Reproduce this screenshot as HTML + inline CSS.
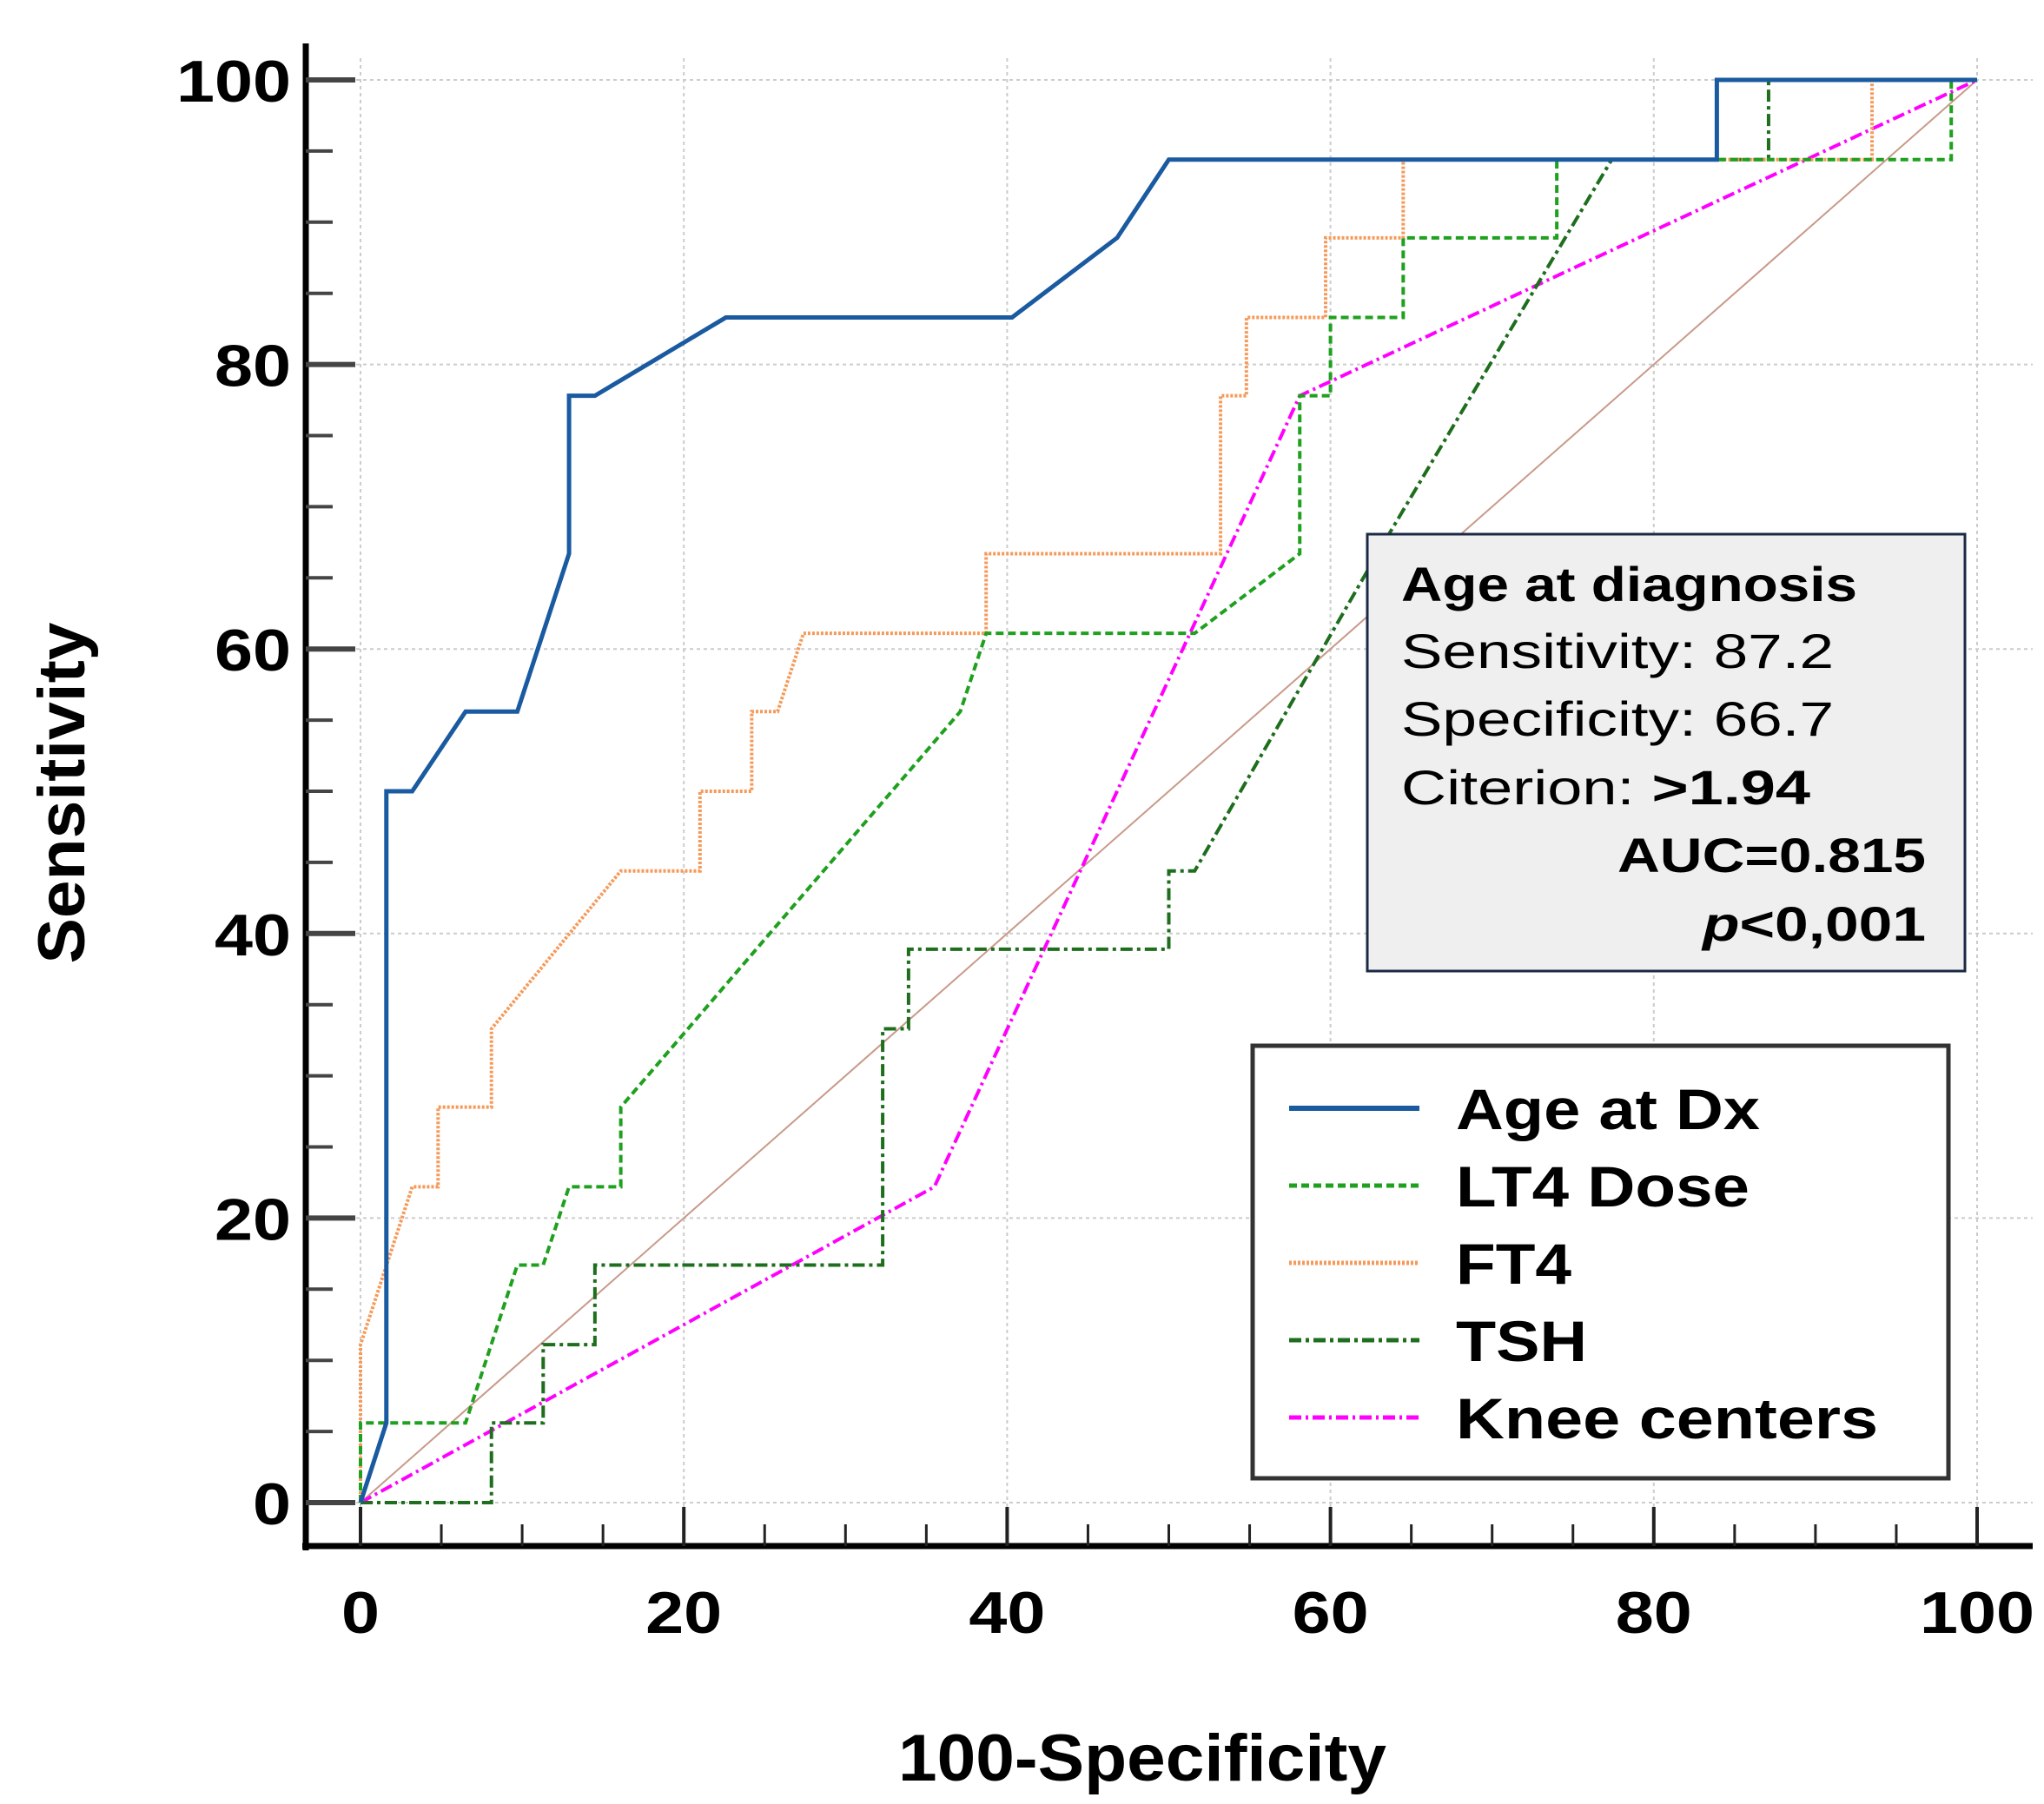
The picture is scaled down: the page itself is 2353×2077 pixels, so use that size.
<!DOCTYPE html>
<html><head><meta charset="utf-8"><style>
body{margin:0;background:#fff}
svg{display:block;font-family:"Liberation Sans",sans-serif}
</style></head><body>
<svg id="chart" width="2353" height="2077" viewBox="0 0 2353 2077" xmlns="http://www.w3.org/2000/svg">
<g id="grid"></g>
<g id="axes"></g>
<g id="series"></g>
<g>
<rect x="1574" y="615" width="688" height="503" fill="#efefef" stroke="#1a2a44" stroke-width="3"/>
<text x="1613" y="692" font-size="56" font-weight="bold" textLength="525" lengthAdjust="spacingAndGlyphs">Age at diagnosis</text>
<text x="1613" y="769" font-size="56" textLength="498" lengthAdjust="spacingAndGlyphs">Sensitivity: 87.2</text>
<text x="1613" y="847" font-size="56" textLength="498" lengthAdjust="spacingAndGlyphs">Specificity: 66.7</text>
<text x="1613" y="926" font-size="56" textLength="471" lengthAdjust="spacingAndGlyphs">Citerion: <tspan font-weight="bold">&gt;1.94</tspan></text>
<text x="1862" y="1004" font-size="56" font-weight="bold" textLength="355" lengthAdjust="spacingAndGlyphs">AUC=0.815</text>
<text x="1960" y="1083" font-size="56" font-weight="bold" textLength="257" lengthAdjust="spacingAndGlyphs"><tspan font-style="italic">p</tspan>&lt;0,001</text>
</g>
<g id="legend">
<rect x="1442" y="1204" width="801" height="498" fill="#fff" stroke="#333" stroke-width="5"/>
</g>
<text x="1315" y="2050" font-size="76" font-weight="bold" text-anchor="middle" textLength="562" lengthAdjust="spacingAndGlyphs">100-Specificity</text>
<text transform="translate(97,913) rotate(-90)" font-size="76" font-weight="bold" text-anchor="middle" textLength="393" lengthAdjust="spacingAndGlyphs">Sensitivity</text>
</svg>
<script>
const ticks=[0,20,40,60,80,100];
const ageX=[0,1.6,1.6,3.2,6.5,9.7,12.9,12.9,14.5,22.6,40.3,46.8,50,83.9,83.9,100];
const ageY=[0,5.6,50,50,55.6,55.6,66.7,77.8,77.8,83.3,83.3,88.9,94.4,94.4,100,100];
const lt4X=[0,0,6.5,9.7,11.3,12.9,16.1,16.1,37.1,38.7,51.6,58.1,58.1,60,60,64.5,64.5,74,74,98.4,98.4,100];
const lt4Y=[0,5.6,5.6,16.7,16.7,22.2,22.2,27.8,55.6,61.1,61.1,66.7,77.8,77.8,83.3,83.3,88.9,88.9,94.4,94.4,100,100];
const ft4X=[0,0,3.2,4.8,4.8,8.1,8.1,16.1,21,21,24.2,24.2,25.8,27.4,38.7,38.7,53.2,53.2,54.8,54.8,59.7,59.7,64.5,64.5,93.5,93.5,100];
const ft4Y=[0,11.1,22.2,22.2,27.8,27.8,33.3,44.4,44.4,50,50,55.6,55.6,61.1,61.1,66.7,66.7,77.8,77.8,83.3,83.3,88.9,88.9,94.4,94.4,100,100];
const tshX=[0,8.1,8.1,11.3,11.3,14.5,14.5,32.3,32.3,33.9,33.9,50,50,51.6,62.9,77.4,87.1,87.1,100];
const tshY=[0,0,5.6,5.6,11.1,11.1,16.7,16.7,33.3,33.3,38.9,38.9,44.4,44.4,66.7,94.4,94.4,100,100];
const kneeX=[0,35.5,58.1,100];
const kneeY=[0,22.2,77.8,100];
const refX=[0,100];
const refY=[0,100];

const NS="http://www.w3.org/2000/svg";
const X0=415,X1=2276,Y0=1730,Y1=92;
const sx=v=>X0+(X1-X0)*v/100;
const sy=v=>Y0-(Y0-Y1)*v/100;
function mk(tag,attrs,parent){const e=document.createElementNS(NS,tag);for(const k in attrs)e.setAttribute(k,attrs[k]);parent.appendChild(e);return e;}
const grid=document.getElementById('grid'),axes=document.getElementById('axes'),series=document.getElementById('series'),legend=document.getElementById('legend');
ticks.forEach(t=>{
  const v=mk('line',{x1:sx(t),x2:sx(t),y1:Y1-25,y2:Y0+10,stroke:'#ccc','stroke-width':2,'stroke-dasharray':'4 4'},grid);
  
  
  const h=mk('line',{x1:X0-5,x2:2340,y1:sy(t),y2:sy(t),stroke:'#ccc','stroke-width':2,'stroke-dasharray':'4 4'},grid);
  
  
});
mk('line',{x1:352,x2:352,y1:50,y2:1785,stroke:'#000','stroke-width':7},axes);
mk('line',{x1:348,x2:2340,y1:1780,y2:1780,stroke:'#000','stroke-width':7},axes);
for(let t=0;t<=100;t+=5){
  const major=t%20===0;
  mk('line',{x1:352,x2:major?409:383,y1:sy(t),y2:sy(t),stroke:'#444','stroke-width':major?6:4},axes);
  mk('line',{x1:sx(t),x2:sx(t),y1:1780,y2:major?1735:1755,stroke:'#222','stroke-width':major?4:3},axes);
}
ticks.forEach(t=>{
  const s=String(t),w=s.length*44;
  const a=mk('text',{x:335-w,y:sy(t)+25,'font-size':68,'font-weight':'bold',textLength:w,lengthAdjust:'spacingAndGlyphs'},axes);
  a.textContent=s;
  
  
  const b=mk('text',{x:sx(t)-w/2,y:1880,'font-size':68,'font-weight':'bold',textLength:w,lengthAdjust:'spacingAndGlyphs'},axes);
  b.textContent=s;
  
  
});
function pts(xs,ys){return xs.map((x,i)=>sx(x)+','+sy(ys[i])).join(' ');}
const defs=[
 {name:'reference-line',xs:refX,ys:refY,c:'#c89a8a',w:2,d:''},
 {name:'knee-centers-line',xs:kneeX,ys:kneeY,c:'#ff00ff',w:4,d:'14 5 3 5',label:'Knee centers',tl:486},
 {name:'tsh-line',xs:tshX,ys:tshY,c:'#1e6e1e',w:4,d:'14 5 4 5',label:'TSH',tl:151},
 {name:'ft4-line',xs:ft4X,ys:ft4Y,c:'#f59a5a',w:4,d:'3 2',label:'FT4',tl:133},
 {name:'lt4-dose-line',xs:lt4X,ys:lt4Y,c:'#1fa01f',w:4,d:'9 5',label:'LT4 Dose',tl:338},
 {name:'age-at-dx-line',xs:ageX,ys:ageY,c:'#1a5aa0',w:5,d:'',label:'Age at Dx',tl:350}
];
defs.forEach(s=>{
  const p=mk('polyline',{points:pts(s.xs,s.ys),fill:'none',stroke:s.c,'stroke-width':s.w,'stroke-dasharray':s.d||'none','stroke-linejoin':'miter'},series);
  
  
});
const order=[5,4,3,2,1];
order.forEach((k,i)=>{
  const s=defs[k],y=1276+i*89;
  const g=mk('g',{},legend);
  
  
  mk('line',{x1:1484,x2:1634,y1:y,y2:y,stroke:s.c,'stroke-width':s.w+1,'stroke-dasharray':s.d||'none'},g);
  const t=mk('text',{x:1676,y:y+24,'font-size':66,'font-weight':'bold',textLength:s.tl,lengthAdjust:'spacingAndGlyphs'},g);
  t.textContent=s.label;
});
</script>
</body></html>
